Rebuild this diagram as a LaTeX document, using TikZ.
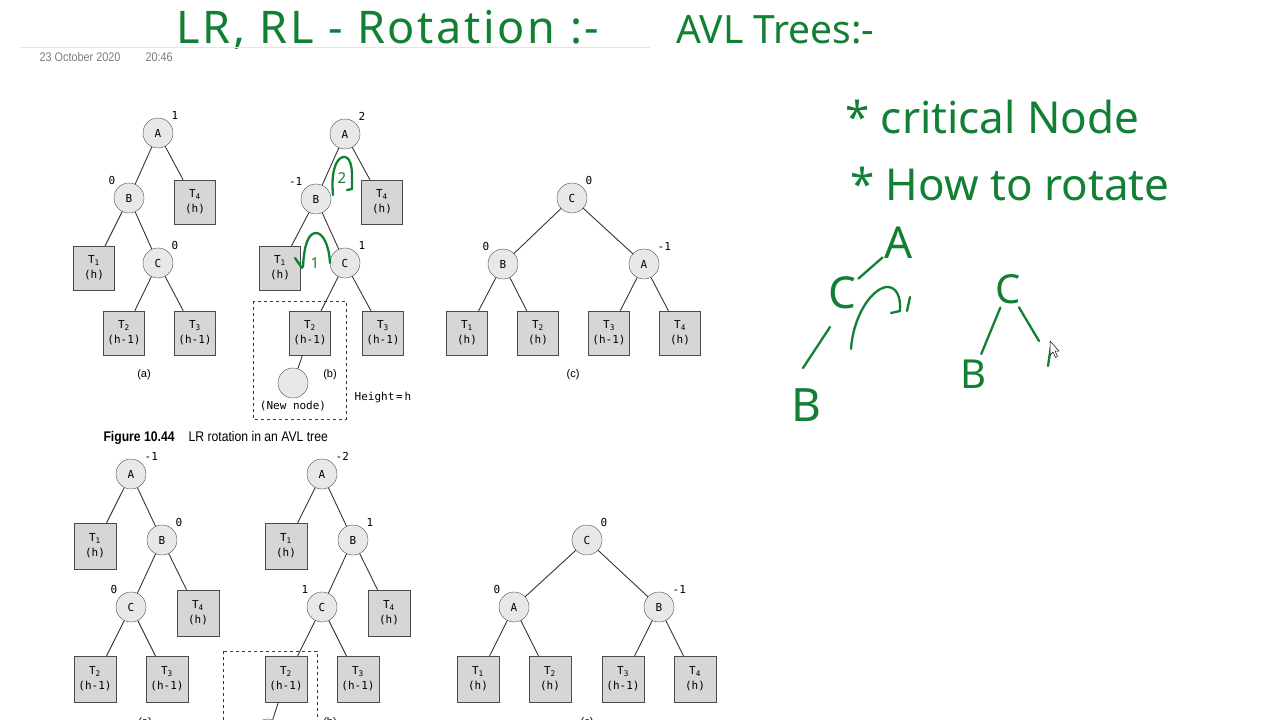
\documentclass[tikz,border=0pt]{standalone}
\usepackage{fontspec}
\setmonofont{DejaVu Sans Mono}
\setsansfont{Liberation Sans}
\newfontfamily\handfont{Noto Sans}
\newfontfamily\notefont[FakeStretch=0.87]{Liberation Sans}
\usepackage{tikz}
\usetikzlibrary{arrows.meta,positioning,calc}
\definecolor{pengreen}{RGB}{18,128,52}
\definecolor{boxfill}{RGB}{214,214,214}
\definecolor{nodefill}{RGB}{232,232,232}
\definecolor{outl}{RGB}{75,75,75}
\definecolor{edgec}{RGB}{55,55,55}
\definecolor{stampgray}{RGB}{125,125,125}
\definecolor{rulegray}{RGB}{228,228,228}

\begin{document}
\begin{tikzpicture}[x=1pt,y=-1pt,>=Latex,
  avl/.style={circle,draw=outl,fill=nodefill,minimum size=30pt,inner sep=0pt,
              font=\ttfamily\fontsize{11}{13}\selectfont},
  sub/.style={rectangle,draw=outl,fill=boxfill,minimum width=41pt,minimum height=44pt,
              inner sep=0pt,align=center,font=\ttfamily\fontsize{11}{15}\selectfont},
  bsub/.style={sub,minimum width=42pt,minimum height=46pt},
  bal/.style={inner sep=1pt,font=\ttfamily\fontsize{11}{13}\selectfont},
  edge/.style={draw=edgec,line width=0.9pt},
  partlbl/.style={font=\sffamily\fontsize{11}{13}\selectfont},
  hand/.style={draw=pengreen,line width=2.3pt,line cap=round,line join=round},
  handtxt/.style={text=pengreen,inner sep=0pt},
  every label/.style={label distance=2.5pt}]
  \useasboundingbox[fill=white] (0,0) rectangle (1280,720);

  % Page header: handwritten title, rule and time stamp.
  \node[handtxt,anchor=base west,font=\handfont\fontsize{45}{50}\selectfont\addfontfeature{LetterSpace=6}]
    (title) at (176,43) {LR, RL - Rotation :-};
  \node[handtxt,anchor=base west,font=\handfont\fontsize{39}{44}\selectfont]
    (topic) at (676,43) {AVL Trees:-};
  \draw[rulegray,line width=1pt] (20,47) -- (650,47);
  \node[anchor=west,text=stampgray,font=\notefont\fontsize{12.5}{14}\selectfont]
    (date) at (36,57) {23 October 2020};
  \node[anchor=west,text=stampgray,font=\notefont\fontsize{12.5}{14}\selectfont]
    (time) at (142,57) {20:46};

  % Figure 10.44 (a): balanced before insertion.
  \node[avl,label={[bal]45:1}]  (aA) at (158,133) {A};
  \node[avl,label={[bal]135:0}] (aB) at (129,198) {B};
  \node[avl,label={[bal]45:0}]  (aC) at (158,263) {C};
  \node[sub] (aT1) at (94,268)  {T\textsubscript{1}\\(h)};
  \node[sub] (aT4) at (195,202) {T\textsubscript{4}\\(h)};
  \node[sub] (aT2) at (124,333) {T\textsubscript{2}\\(h-1)};
  \node[sub] (aT3) at (195,333) {T\textsubscript{3}\\(h-1)};
  \draw[edge] (aA)--(aB) (aA)--(aT4) (aB)--(aT1) (aB)--(aC) (aC)--(aT2) (aC)--(aT3);
  \node[partlbl] (alab) at (144,375) {(a)};

  % (b): after inserting below T2.
  \node[avl,label={[bal]45:2}]   (bA) at (345,134) {A};
  \node[avl,label={[bal]135:-1}] (bB) at (316,199) {B};
  \node[avl,label={[bal]45:1}]   (bC) at (345,263) {C};
  \node[sub] (bT1) at (280,268) {T\textsubscript{1}\\(h)};
  \node[sub] (bT4) at (382,202) {T\textsubscript{4}\\(h)};
  \node[sub] (bT2) at (310,333) {T\textsubscript{2}\\(h-1)};
  \node[sub] (bT3) at (383,333) {T\textsubscript{3}\\(h-1)};
  \node[avl] (bnew) at (293,383) {};
  \node[bal,below=2pt of bnew] (bnewlab) {(New node)};
  \draw[edge] (bA)--(bB) (bA)--(bT4) (bB)--(bT1) (bB)--(bC) (bC)--(bT2) (bC)--(bT3)
              (bT2)--(bnew);
  \draw[edgec,dashed,line width=0.8pt] (253,301) rectangle (346,419);
  \node[partlbl] (blab) at (330,375) {(b)};
  \node[bal] (bheight) at (383,397) {Height\,=\,h};

  % (c): after the LR rotation.
  \node[avl,label={[bal]45:0}]   (cC) at (572,198) {C};
  \node[avl,label={[bal]135:0}]  (cB) at (503,264) {B};
  \node[avl,label={[bal]45:-1}]  (cA) at (644,264) {A};
  \node[sub] (cT1) at (467,333) {T\textsubscript{1}\\(h)};
  \node[sub] (cT2) at (538,333) {T\textsubscript{2}\\(h)};
  \node[sub] (cT3) at (609,333) {T\textsubscript{3}\\(h-1)};
  \node[sub] (cT4) at (680,333) {T\textsubscript{4}\\(h)};
  \draw[edge] (cC)--(cB) (cC)--(cA) (cB)--(cT1) (cB)--(cT2) (cA)--(cT3) (cA)--(cT4);
  \node[partlbl] (clab) at (573,375) {(c)};

  \node[anchor=west,font=\notefont\fontsize{14}{16}\selectfont] (caption) at (100,438)
    {\textbf{Figure 10.44}\hspace{14pt}LR rotation in an AVL tree};

  % Second figure (RL case), cut by the page edge.
  \node[avl,label={[bal]45:-1}]  (dA) at (131,474) {A};
  \node[avl,label={[bal]45:0}]   (dB) at (162,540) {B};
  \node[avl,label={[bal]135:0}]  (dC) at (131,607) {C};
  \node[bsub] (dT1) at (95,546)  {T\textsubscript{1}\\(h)};
  \node[bsub] (dT4) at (198,613) {T\textsubscript{4}\\(h)};
  \node[bsub] (dT2) at (95,679)  {T\textsubscript{2}\\(h-1)};
  \node[bsub] (dT3) at (167,679) {T\textsubscript{3}\\(h-1)};
  \draw[edge] (dA)--(dT1) (dA)--(dB) (dB)--(dC) (dB)--(dT4) (dC)--(dT2) (dC)--(dT3);
  \node[partlbl] (dlab) at (145,723) {(a)};

  \node[avl,label={[bal]45:-2}]  (eA) at (322,474) {A};
  \node[avl,label={[bal]45:1}]   (eB) at (353,540) {B};
  \node[avl,label={[bal]135:1}]  (eC) at (322,607) {C};
  \node[bsub] (eT1) at (286,546) {T\textsubscript{1}\\(h)};
  \node[bsub] (eT4) at (389,613) {T\textsubscript{4}\\(h)};
  \node[bsub] (eT2) at (286,679) {T\textsubscript{2}\\(h-1)};
  \node[bsub] (eT3) at (358,679) {T\textsubscript{3}\\(h-1)};
  \node[avl] (enew) at (268,734) {};
  \draw[edge] (eA)--(eT1) (eA)--(eB) (eB)--(eC) (eB)--(eT4) (eC)--(eT2) (eC)--(eT3)
              (eT2)--(enew);
  \draw[edgec,dashed,line width=0.8pt] (223,651) rectangle (317,745);
  \node[partlbl] (elab) at (330,723) {(b)};

  \node[avl,label={[bal]45:0}]   (fC) at (587,540) {C};
  \node[avl,label={[bal]135:0}]  (fA) at (514,607) {A};
  \node[avl,label={[bal]45:-1}]  (fB) at (659,607) {B};
  \node[bsub] (fT1) at (478,679) {T\textsubscript{1}\\(h)};
  \node[bsub] (fT2) at (550,679) {T\textsubscript{2}\\(h)};
  \node[bsub] (fT3) at (623,679) {T\textsubscript{3}\\(h-1)};
  \node[bsub] (fT4) at (695,679) {T\textsubscript{4}\\(h)};
  \draw[edge] (fC)--(fA) (fC)--(fB) (fA)--(fT1) (fA)--(fT2) (fB)--(fT3) (fB)--(fT4);
  \node[partlbl] (flab) at (587,723) {(c)};

  % Pen marks on (b): rotation order.
  \draw[hand] (333,195) .. controls (331,174) and (335,159) .. (343,157)
              .. controls (350,156) and (352,166) .. (352,176) -- (352,189) -- (347,190);
  \node[handtxt,font=\handfont\fontsize{15}{16}\selectfont] (rot2) at (342,178) {2};
  \draw[hand] (330,263) .. controls (329,245) and (323,233) .. (316,233)
              .. controls (308,233) and (304,246) .. (303,267);
  \draw[hand] (295,258) -- (302,268);
  \node[handtxt,font=\handfont\fontsize{15}{16}\selectfont] (rot1) at (315,263) {1};

  % Pen notes on the right.
  \node[handtxt,anchor=base west,font=\handfont\fontsize{44}{50}\selectfont]
    (note1) at (845,133) {* critical Node};
  \node[handtxt,anchor=base west,font=\handfont\fontsize{44}{50}\selectfont]
    (note2) at (850,200) {* How to rotate};

  \node[handtxt,font=\handfont\fontsize{44}{50}\selectfont] (hA) at (899,243) {A};
  \node[handtxt,font=\handfont\fontsize{44}{50}\selectfont] (hC) at (842,293) {C};
  \node[handtxt,font=\handfont\fontsize{46}{50}\selectfont] (hB) at (806,405) {B};
  \coordinate (hCB1) at (830,327);
  \coordinate (hCB2) at (803,368);
  \draw[hand,shorten <=3pt,shorten >=3pt] (hA) -- (hC);
  \draw[hand] (hCB1) -- (hCB2);
  \draw[hand] (851,349) .. controls (853,318) and (870,290) .. (886,287)
              .. controls (897,286) and (901,298) .. (900,311) -- (891,313);
  \draw[hand] (910,297) -- (907,311);

  \node[handtxt,font=\handfont\fontsize{40}{44}\selectfont] (hC2) at (1008,289) {C};
  \node[handtxt,font=\handfont\fontsize{40}{44}\selectfont] (hB2) at (973,374) {B};
  \coordinate (hR) at (1039,341);
  \draw[hand,shorten <=4pt,shorten >=6pt] (hC2) -- (hB2);
  \draw[hand,shorten <=4pt] (hC2) -- (hR);
  \draw[hand] (1051,346) -- (1048,366);

  % Mouse pointer.
  \draw[black,fill=white,line width=0.5pt,line join=round]
    (1050,341) -- (1050,355) -- (1053,352) -- (1055.5,357.5) -- (1057.5,356.5)
    -- (1055,351) -- (1059,351) -- cycle;
\end{tikzpicture}
\end{document}
